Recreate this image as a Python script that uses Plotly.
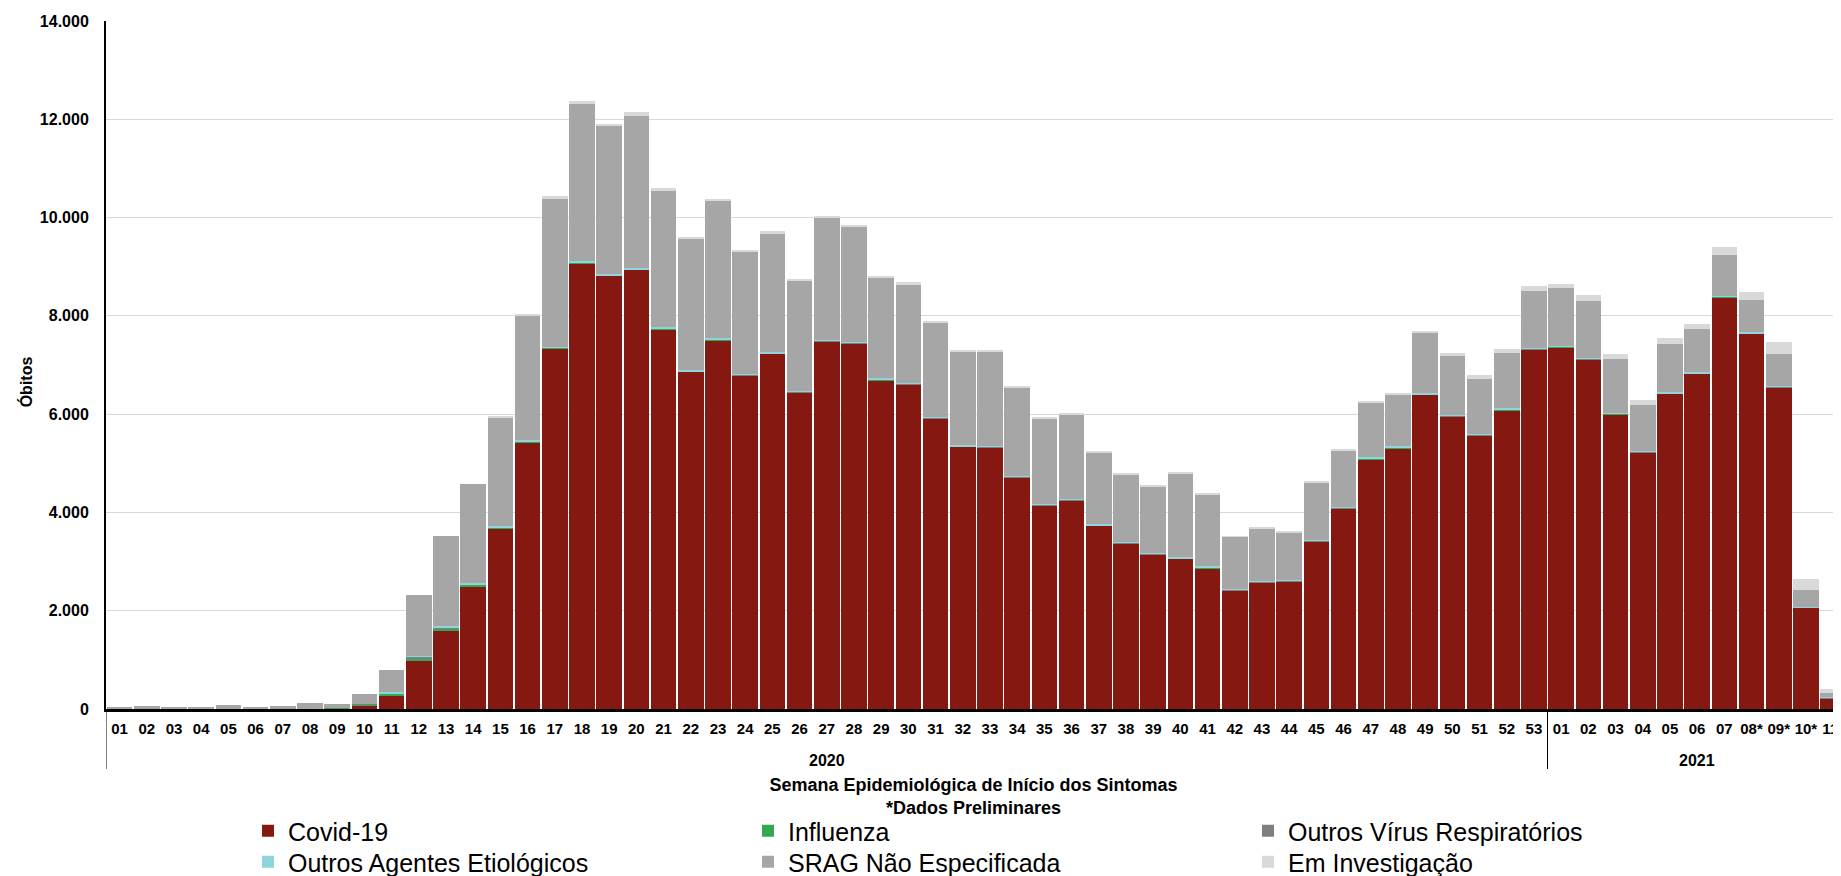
import plotly.graph_objects as go

years = ["2020"] * 53 + ["2021"] * 11
weeks = [f"{i:02d}" for i in range(1, 54)] + ["01", "02", "03", "04", "05", "06", "07", "08*", "09*", "10*", "11*"]
categories = [f"{y}-{w}" for y, w in zip(years, weeks)]
year_labels = ["2020", "2021"]

covid = [0, 0, 0, 0, 0, 0, 0, 0, 0, 75, 280, 981, 1589, 2495, 3673, 5430, 7336, 9075, 8813, 8935,
         7729, 6860, 7505, 6785, 7224, 6439, 7477, 7439, 6692, 6607, 5907, 5336, 5318, 4710, 4140,
         4243, 3729, 3364, 3140, 3056, 2869, 2411, 2579, 2598, 3411, 4084, 5084, 5308, 6393, 5953,
         5570, 6084, 7318,
         7364, 7112, 6000, 5224, 6411, 6822, 8383, 7636, 6542, 2056, 215]
influenza = [0, 0, 0, 0, 0, 0, 0, 0, 15, 25, 40, 40, 45, 35, 15, 10, 10, 5, 5, 5,
             5, 5, 5, 5, 5, 5, 5, 5, 5, 5, 5, 5, 5, 5, 5,
             5, 5, 5, 5, 5, 5, 5, 5, 5, 5, 5, 5, 5, 5, 5,
             5, 5, 5,
             5, 5, 5, 5, 5, 5, 5, 5, 10, 5, 2]
outros_virus = [0, 0, 0, 0, 0, 0, 0, 0, 0, 5, 5, 50, 20, 10, 10, 10, 10, 10, 10, 10,
                10, 10, 10, 10, 10, 10, 10, 10, 10, 10, 10, 10, 10, 10, 10,
                10, 10, 10, 10, 10, 10, 10, 10, 10, 10, 10, 10, 10, 10, 10,
                10, 10, 10,
                10, 10, 10, 10, 10, 10, 10, 10, 10, 10, 20]
outros_agentes = [0, 0, 0, 0, 0, 0, 0, 10, 0, 5, 25, 10, 30, 25, 20, 20, 20, 20, 20, 20,
                  20, 20, 20, 20, 20, 20, 20, 20, 20, 20, 20, 20, 20, 20, 20,
                  20, 20, 20, 20, 20, 20, 20, 20, 20, 20, 20, 20, 20, 20, 20,
                  20, 20, 20,
                  15, 15, 15, 15, 15, 15, 15, 15, 15, 10, 5]
srag = [50, 65, 50, 50, 75, 30, 55, 110, 95, 190, 444, 1246, 1830, 2005, 2206, 2537, 3014, 3210, 3007, 3105,
        2796, 2670, 2800, 2495, 2426, 2236, 2483, 2341, 2048, 2003, 1918, 1904, 1922, 1800, 1735,
        1712, 1456, 1381, 1350, 1694, 1461, 1054, 1066, 962, 1164, 1131, 1121, 1062, 1232, 1190,
        1114, 1134, 1161,
        1167, 1158, 1092, 924, 980, 877, 821, 661, 638, 349, 85]
em_investigacao = [0, 0, 0, 0, 0, 0, 0, 0, 0, 0, 0, 0, 0, 0, 20, 30, 40, 60, 45, 65,
                   40, 35, 40, 35, 35, 30, 35, 35, 35, 35, 30, 35, 35, 35, 40,
                   20, 30, 30, 35, 35, 35, 20, 30, 25, 30, 30, 30, 35, 30, 65,
                   75, 65, 103,
                   93, 121, 93, 112, 121, 103, 159, 159, 252, 215, 75]

series = [
    ("Covid-19", covid, "#851811", "legend"),
    ("Influenza", influenza, "#33A852", "legend"),
    ("Outros Vírus Respiratórios", outros_virus, "#7F7F7F", "legend"),
    ("Outros Agentes Etiológicos", outros_agentes, "#8ED5DC", "legend2"),
    ("SRAG Não Especificada", srag, "#A6A6A6", "legend2"),
    ("Em Investigação", em_investigacao, "#D9D9D9", "legend2"),
]

fig = go.Figure()
for name, vals, color, lg in series:
    fig.add_trace(go.Bar(x=categories, y=vals, name=name, legend=lg,
                         marker=dict(color=color, line=dict(width=0))))

OFF = 8  # page body margin
W, H = 1841 - OFF, 876 - OFF
ml, mr, mt, mb = 106 - OFF, 0, 21 - OFF, 167
pw, ph = W - ml - mr, H - mt - mb

def px_x(p):
    return (p - OFF - ml) / pw

def px_y(p):
    return (H - mb - (p - OFF)) / ph

FAM = "Liberation Sans, Arial, sans-serif"
bold15 = dict(family=FAM, size=15, color="black", weight="bold")

# year group labels and dividers
for yl in year_labels:
    idx = [i for i, y in enumerate(years) if y == yl]
    mid = (idx[0] + idx[-1]) / 2
    fig.add_annotation(x=mid, xref="x", y=px_y(760), yref="paper", text=yl, showarrow=False,
                       font=dict(family=FAM, size=16, color="black", weight="bold"),
                       xanchor="center", yanchor="middle")
    fig.add_shape(type="line", xref="x", yref="paper", x0=idx[0] - 0.5, x1=idx[0] - 0.5,
                  y0=0, y1=px_y(769), line=dict(color="black", width=1))

fig.add_annotation(x=-0.005, xref="paper", y=px_y(382), yref="paper", text="Óbitos",
                   textangle=-90, showarrow=False, xanchor="center", yanchor="middle",
                   xshift=-(106 - 26) + 9,
                   font=dict(family=FAM, size=16, color="black", weight="bold"))

leg_common = dict(orientation="h", xanchor="left", yanchor="middle",
                  entrywidth=455, entrywidthmode="pixels", traceorder="normal",
                  font=dict(size=25, family=FAM, color="black"),
                  bgcolor="rgba(0,0,0,0)", itemwidth=30)

fig.update_layout(
    width=W, height=H,
    margin=dict(l=ml, r=mr, t=mt, b=mb, autoexpand=False),
    barmode="stack", bargap=0.06,
    separators=",.",
    plot_bgcolor="white", paper_bgcolor="white",
    font=dict(family=FAM, color="black"),
    showlegend=True,
    legend=dict(x=px_x(248), y=px_y(831), **leg_common),
    legend2=dict(x=px_x(248), y=px_y(862), **leg_common),
    xaxis=dict(type="category", range=[-0.5, 63.29],
               tickmode="array", tickvals=categories, ticktext=weeks,
               showline=True, linecolor="black", linewidth=2.5,
               tickfont=bold15, tickangle=0, ticks="", ticklabelstandoff=4,
               title=dict(text="Semana Epidemiológica de Início dos Sintomas<br>*Dados Preliminares",
                          font=dict(family=FAM, size=18, color="black", weight="bold"), standoff=43)),
    yaxis=dict(range=[0, 14000], dtick=2000, tickformat=",d",
               showline=True, linecolor="black", linewidth=2,
               showgrid=True, gridcolor="#D9D9D9", gridwidth=1,
               zeroline=False, ticks="", ticklabelstandoff=12,
               tickfont=dict(family=FAM, size=16, color="black", weight="bold")),
)

fig.write_html("out.html")
